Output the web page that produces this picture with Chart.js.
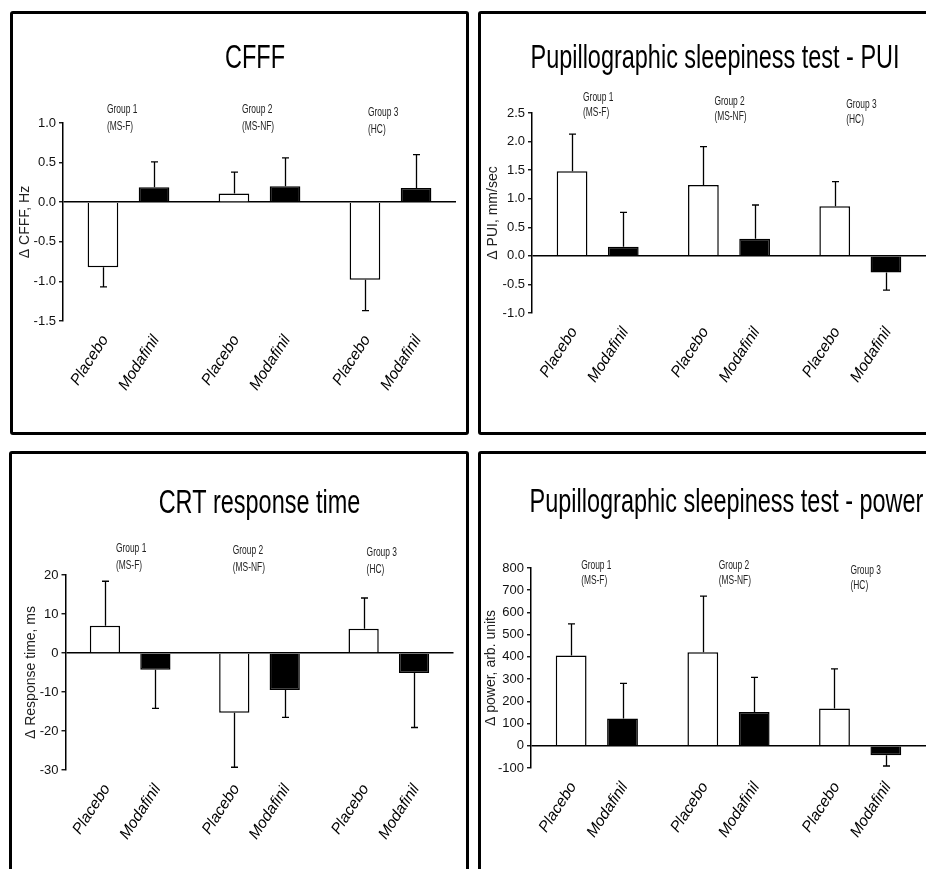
<!DOCTYPE html>
<html>
<head>
<meta charset="utf-8">
<script src="https://cdn.jsdelivr.net/npm/chart.js@4.4.1/dist/chart.umd.min.js"></script>
<style>
  body { margin: 0; background: #fff; width: 926px; height: 869px; overflow: hidden; position: relative; }
  .panel { position: absolute; border: 3px solid #000; border-radius: 3px; overflow: hidden; background: #fff; }
  .panel canvas { position: absolute; left: 0; top: 0; }
</style>
</head>
<body>
<div class="panel" style="left:10px; top:11px; width:453px; height:418px;"><canvas id="cfffChart" width="453" height="418"></canvas></div>
<div class="panel" style="left:478px; top:11px; width:454px; height:418px;"><canvas id="puiChart" width="454" height="418"></canvas></div>
<div class="panel" style="left:9px; top:451px; width:454px; height:424px;"><canvas id="crtChart" width="454" height="424"></canvas></div>
<div class="panel" style="left:478px; top:451px; width:454px; height:424px;"><canvas id="powerChart" width="454" height="424"></canvas></div>
<script>
const groups = ['Group 1', 'Group 2', 'Group 3'];
const groupCodes = ['(MS-F)', '(MS-NF)', '(HC)'];
const treatments = ['Placebo', 'Modafinil'];

// CFFF change, Hz
const cfffPlacebo = [-0.82, 0.11, -0.98];
const cfffPlaceboErr = [0.25, 0.27, 0.39];
const cfffModafinil = [0.19, 0.20, 0.18];
const cfffModafinilErr = [0.32, 0.36, 0.42];
const cfffTicks = [-1.5, -1.0, -0.5, 0.0, 0.5, 1.0];

// PUI change, mm/sec
const puiPlacebo = [1.48, 1.24, 0.87];
const puiPlaceboErr = [0.65, 0.67, 0.43];
const puiModafinil = [0.16, 0.30, -0.29];
const puiModafinilErr = [0.60, 0.59, 0.31];
const puiTicks = [-1.0, -0.5, 0.0, 0.5, 1.0, 1.5, 2.0, 2.5];

// CRT response time change, ms
const crtPlacebo = [7.0, -15.3, 6.2];
const crtPlaceboErr = [11.4, 14.0, 7.9];
const crtModafinil = [-4.3, -9.5, -5.1];
const crtModafinilErr = [9.9, 7.0, 14.0];
const crtTicks = [-30, -20, -10, 0, 10, 20];

// power change, arb. units
const powerPlacebo = [406, 421, 168];
const powerPlaceboErr = [143, 252, 178];
const powerModafinil = [123, 152, -43];
const powerModafinilErr = [158, 156, 48];
const powerTicks = [-100, 0, 100, 200, 300, 400, 500, 600, 700, 800];

const narrow = "'Liberation Sans Narrow', 'Liberation Sans', Arial, sans-serif";
const sans = "'Liberation Sans', Arial, sans-serif";

// error bars, titles, group captions and slanted treatment labels
const annotate = {
    id: 'annotate',
    afterDatasetsDraw(chart, args, opts) {
        const ctx = chart.ctx;
        const y = chart.scales.y;
        ctx.save();
        ctx.strokeStyle = '#000';
        ctx.lineWidth = 1.3;
        chart.data.datasets.forEach((ds, i) => {
            chart.getDatasetMeta(i).data.forEach((bar, j) => {
                const v = ds.data[j];
                const end = y.getPixelForValue(v + Math.sign(v) * ds.errors[j]);
                const x = Math.round(bar.x) + 0.5;
                ctx.beginPath();
                ctx.moveTo(x, bar.y);
                ctx.lineTo(x, end);
                ctx.moveTo(x - 3.5, end);
                ctx.lineTo(x + 3.5, end);
                ctx.stroke();
            });
        });
        ctx.restore();
    },
    afterDraw(chart, args, opts) {
        const ctx = chart.ctx;
        const area = chart.chartArea;
        ctx.save();
        ctx.fillStyle = '#000';

        // title
        ctx.save();
        ctx.font = '34px ' + sans;
        ctx.textAlign = 'center';
        ctx.textBaseline = 'alphabetic';
        ctx.translate((area.left + area.right) / 2 + opts.titleDx, opts.titleY);
        ctx.scale(0.69, 1);
        ctx.fillText(opts.title, 0, 0);
        ctx.restore();

        // group captions
        const placeboBars = chart.getDatasetMeta(0).data;
        groups.forEach((g, k) => {
            const [dx, dy] = opts.groupOffsets[k];
            ctx.save();
            ctx.font = '12px ' + sans;
            ctx.fillStyle = '#222';
            ctx.textAlign = 'left';
            ctx.textBaseline = 'middle';
            ctx.translate(placeboBars[k].x + dx, area.top + dy);
            ctx.scale(0.7, 1);
            ctx.fillText(g, 0, 0);
            ctx.fillText(groupCodes[k], 0, opts.groupGap);
            ctx.restore();
        });

        // slanted treatment labels
        chart.data.datasets.forEach((ds, i) => {
            chart.getDatasetMeta(i).data.forEach(bar => {
                ctx.save();
                ctx.font = 'italic 15.5px ' + sans;
                ctx.textAlign = 'right';
                ctx.textBaseline = 'middle';
                ctx.translate(bar.x + 2, area.bottom + 16);
                ctx.rotate(-57 * Math.PI / 180);
                ctx.fillText(ds.label, 0, 0);
                ctx.restore();
            });
        });
        ctx.restore();
    }
};

function makeChart(id, placebo, placeboErr, modafinil, modafinilErr, ticks, decimals, yTitle, look) {
    new Chart(document.getElementById(id).getContext('2d'), {
        type: 'bar',
        data: {
            labels: groups,
            datasets: [{
                label: treatments[0],
                data: placebo,
                errors: placeboErr,
                backgroundColor: '#fff',
                borderColor: '#000',
                borderWidth: 1.5
            }, {
                label: treatments[1],
                data: modafinil,
                errors: modafinilErr,
                backgroundColor: '#000',
                borderColor: '#000',
                borderWidth: 1.5
            }]
        },
        options: {
            responsive: false,
            animation: false,
            events: [],
            categoryPercentage: 0.78,
            barPercentage: 0.6,
            layout: { padding: look.padding },
            plugins: {
                legend: { display: false },
                tooltip: { enabled: false },
                annotate: look
            },
            scales: {
                x: { display: false },
                y: {
                    z: 1,
                    min: ticks[0],
                    max: ticks[ticks.length - 1],
                    afterBuildTicks: scale => { scale.ticks = ticks.map(value => ({ value })); },
                    afterFit: scale => { scale.width = look.axisWidth; },
                    border: { display: true, color: '#000', width: 1.5 },
                    grid: {
                        drawOnChartArea: true,
                        color: c => (c.tick && c.tick.value === 0 ? '#000' : 'rgba(0,0,0,0)'),
                        lineWidth: 1.5,
                        tickColor: '#000',
                        tickLength: 4,
                        tickWidth: 1.3
                    },
                    ticks: {
                        padding: 3,
                        color: '#111',
                        font: { family: narrow, size: 13 },
                        callback: v => v.toFixed(decimals)
                    },
                    title: {
                        display: true,
                        text: yTitle,
                        color: '#222',
                        padding: { top: 0, bottom: 0 },
                        font: { family: sans, size: 14 }
                    }
                }
            }
        },
        plugins: [annotate]
    });
}

makeChart('cfffChart', cfffPlacebo, cfffPlaceboErr, cfffModafinil, cfffModafinilErr, cfffTicks, 1, 'Δ CFFF, Hz', {
    title: 'CFFF', titleDx: -4.5, titleY: 54,
    padding: { left: 3.5, top: 109, right: 10, bottom: 111 }, axisWidth: 46.5,
    groupOffsets: [[4, -13], [8, -13], [3, -10]], groupGap: 17
});

makeChart('puiChart', puiPlacebo, puiPlaceboErr, puiModafinil, puiModafinilErr, puiTicks, 1, 'Δ PUI, mm/sec', {
    title: 'Pupillographic sleepiness test - PUI', titleDx: -14, titleY: 54,
    padding: { left: 3.5, top: 99, right: 9, bottom: 119 }, axisWidth: 47.5,
    groupOffsets: [[11, -15], [11, -11], [11.5, -8]], groupGap: 15
});

makeChart('crtChart', crtPlacebo, crtPlaceboErr, crtModafinil, crtModafinilErr, crtTicks, 0, 'Δ Response time, ms', {
    title: 'CRT response time', titleDx: 0, titleY: 59,
    padding: { left: 11, top: 121, right: 12.5, bottom: 108 }, axisWidth: 42.5,
    groupOffsets: [[11, -26], [-1.5, -24], [3, -22]], groupGap: 17
});

makeChart('powerChart', powerPlacebo, powerPlaceboErr, powerModafinil, powerModafinilErr, powerTicks, 0, 'Δ power, arb. units', {
    title: 'Pupillographic sleepiness test - power', titleDx: -2, titleY: 57.5,
    padding: { left: 2, top: 114, right: 9, bottom: 110 }, axisWidth: 48,
    groupOffsets: [[10, -2], [16, -2], [16, 3]], groupGap: 14.7
});
</script>
</body>
</html>
